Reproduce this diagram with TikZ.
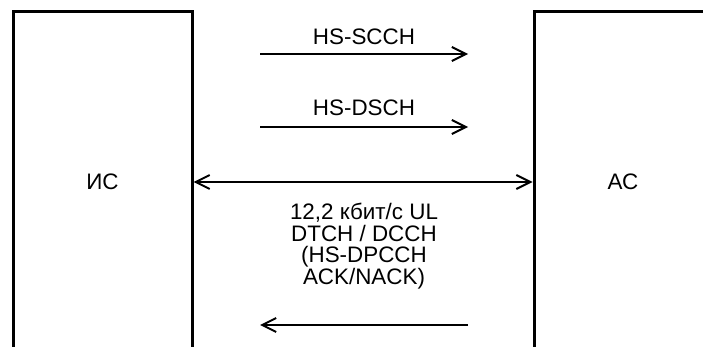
\documentclass[tikz,border=0pt]{standalone}
\usepackage{fontspec}
\setmainfont{Liberation Sans}
\usetikzlibrary{arrows.meta}
\begin{document}
\begin{tikzpicture}[
        x=1pt, y=-1pt,
        every node/.style={font=\fontsize{22.4}{21.7}\selectfont},
        station/.style={draw,line width=3pt,rectangle,minimum height=340pt},
        chan/.style={line width=2pt,-{Straight Barb[length=14pt,width=14pt,line width=2pt]}},
        lbl/.style={inner sep=0pt,align=center},
        ]
    \useasboundingbox (0,0) rectangle (703,347);
    % the two stations, open at the page edges
    \node (is) [station, minimum width=179pt] at (102.5,182) {ИС};
    \node (as) [station, minimum width=178pt] at (623,182) {АС};

    % downlink channels
    \node (scch) [lbl] at (364,37) {HS-SCCH};
    \coordinate (scch-a) at (260,54);
    \coordinate (scch-b) at (468,54);
    \draw [chan] (scch-a) -- (scch-b);

    \node (dsch) [lbl] at (364,108) {HS-DSCH};
    \coordinate (dsch-a) at (260,127);
    \coordinate (dsch-b) at (468,127);
    \draw [chan] (dsch-a) -- (dsch-b);

    % both ways
    \draw [chan, {Straight Barb[length=14pt,width=14pt,line width=2pt]}-{Straight Barb[length=14pt,width=14pt,line width=2pt]}] (is.east) -- (as.west);

    % uplink
    \node (ul) [lbl] at (364,246) {12,2 кбит/с UL\\DTCH / DCCH\\(HS-DPCCH\\ACK/NACK)};
    \coordinate (ul-a) at (468,325);
    \coordinate (ul-b) at (260,325);
    \draw [chan] (ul-a) -- (ul-b);
\end{tikzpicture}
\end{document}
